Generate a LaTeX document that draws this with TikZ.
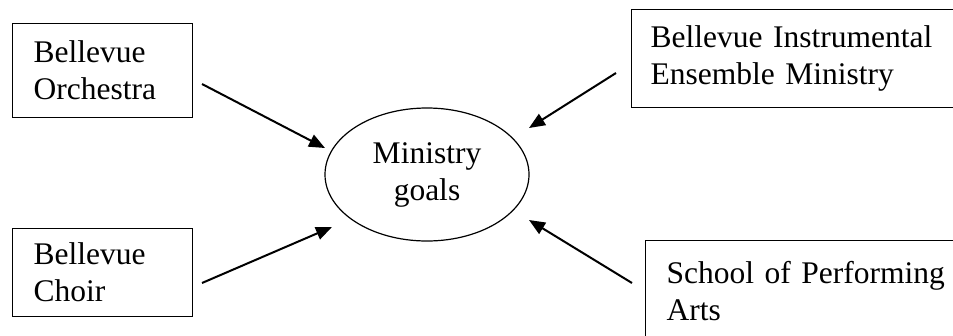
\documentclass[tikz,border=0pt]{standalone}
\usepackage{fontspec}
\setmainfont{Liberation Serif}
\usetikzlibrary{shapes,arrows.meta}

\begin{document}
\begin{tikzpicture}[x=1pt, y=-1pt,
  every node/.style = {font=\fontsize{31.5}{37}\selectfont},
  box/.style = {shape=rectangle, draw, line width=1.4pt, align=left,
    anchor=north west, inner ysep=0pt},
  goal/.style = {shape=ellipse, draw, line width=1.2pt, align=center,
    minimum width=204pt, minimum height=133pt, inner sep=0pt},
  arr/.style = {line width=2pt, -{Triangle[length=16pt,width=13pt]}}]
  \clip (0,0) rectangle (953,335);
  % sources
  \node[box, text width=138pt, inner xsep=21pt, minimum height=94pt]
    (orch) at (12,23) {Bellevue\\Orchestra};
  \node[box, text width=138pt, inner xsep=21pt, minimum height=88pt]
    (choir) at (12,228) {Bellevue\\Choir};
  \node[box, text width=300pt, inner xsep=19pt, minimum height=98pt]
    (iem) at (631,9) {Bellevue Instrumental\\Ensemble Ministry};
  \node[box, text width=290pt, inner xsep=21pt, minimum height=100pt]
    (spa) at (645,240) {School of Performing\\Arts};
  % target
  \node[goal] (goals) at (427,174.5) {Ministry\\goals};
  % arrow ends
  \coordinate (orch-out) at (202,84);
  \coordinate (orch-in) at (325,148);
  \coordinate (choir-out) at (202,283);
  \coordinate (choir-in) at (332,227);
  \coordinate (iem-out) at (616,73);
  \coordinate (iem-in) at (529,128);
  \coordinate (spa-out) at (632,283);
  \coordinate (spa-in) at (529,220);
  \draw[arr] (orch-out) -- (orch-in);
  \draw[arr] (choir-out) -- (choir-in);
  \draw[arr] (iem-out) -- (iem-in);
  \draw[arr] (spa-out) -- (spa-in);
\end{tikzpicture}
\end{document}
